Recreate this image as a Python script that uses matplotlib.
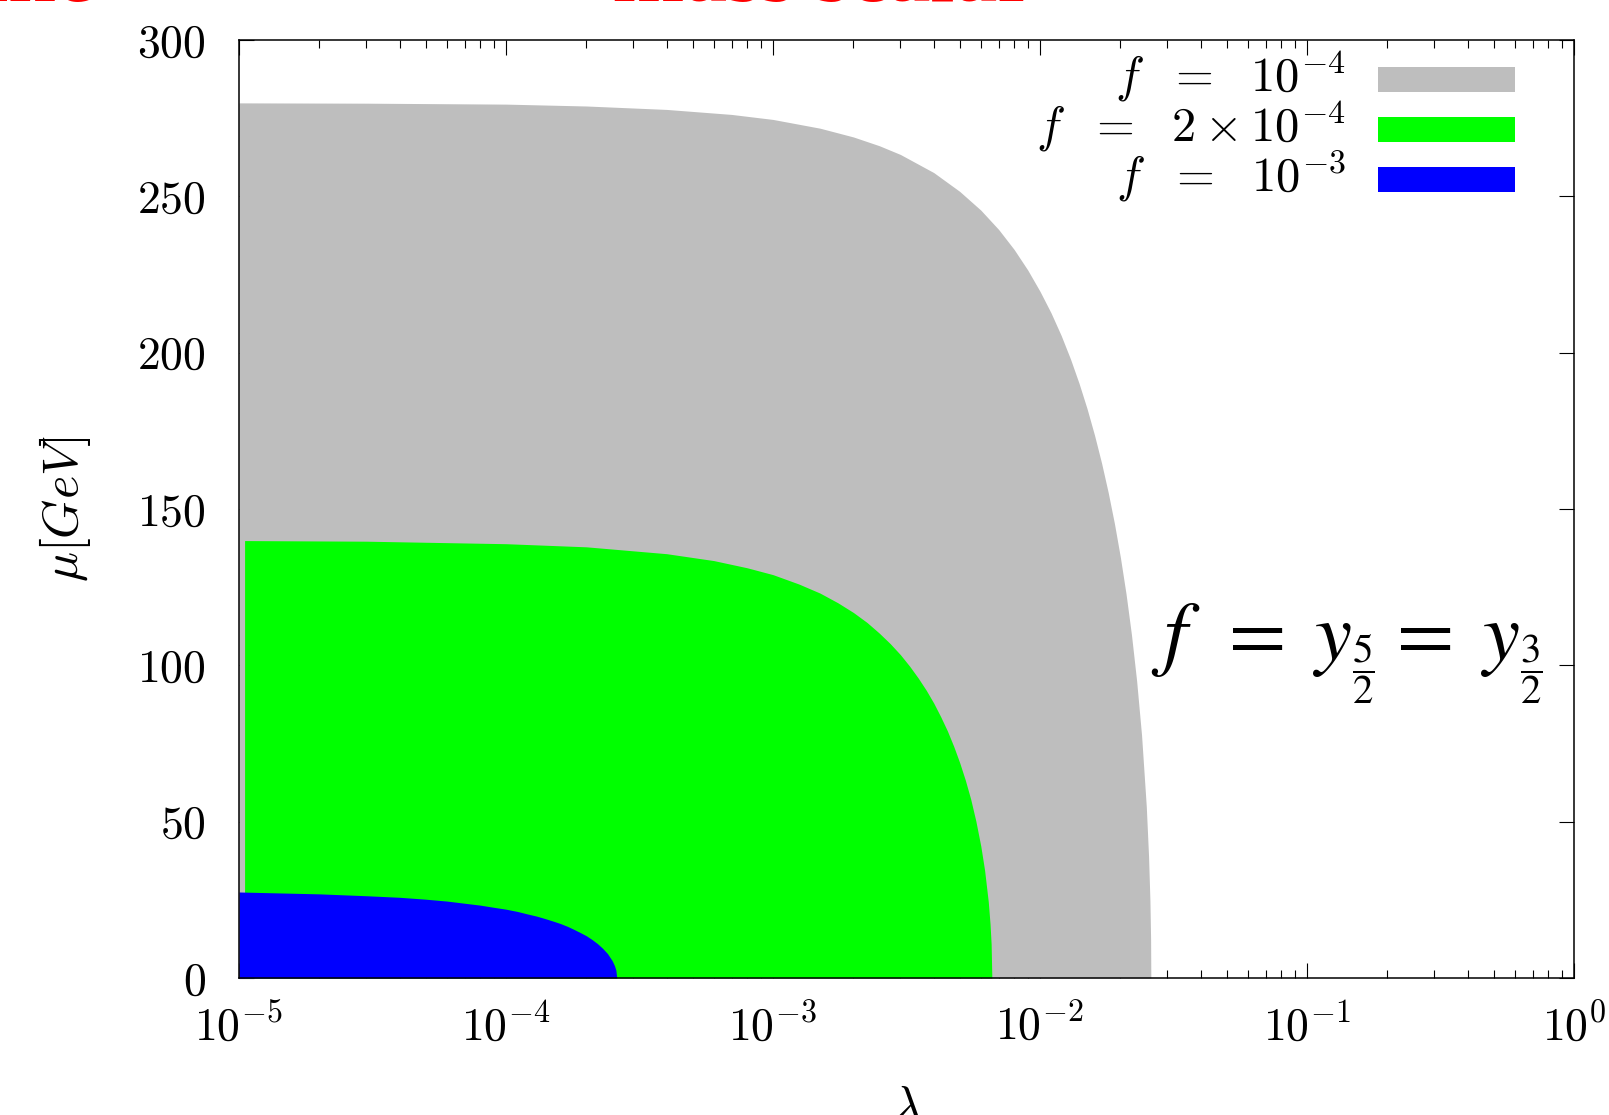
import numpy as np
import matplotlib
matplotlib.use('Agg')
import matplotlib.pyplot as plt
from matplotlib.patches import Rectangle

plt.rcParams['font.family'] = 'serif'
plt.rcParams['font.serif'] = ['cmr10', 'DejaVu Serif']
plt.rcParams['mathtext.fontset'] = 'cm'
plt.rcParams['axes.formatter.use_mathtext'] = True

# ── Dane: brzeg obszaru (lambda, mu [GeV]) ────────────────────────────────────

# f = 1e-4 (szary)
lam_f1 = [1.0e-5, 3.0e-5, 1.0e-4, 2.0e-4, 4.0e-4, 7.0e-4, 1.0e-3, 1.5e-3,
          2.0e-3, 2.5e-3, 3.0e-3, 4.0e-3, 5.0e-3, 6.0e-3, 7.0e-3, 8.0e-3,
          9.0e-3, 1.0e-2, 1.1e-2, 1.2e-2, 1.3e-2, 1.4e-2, 1.5e-2, 1.6e-2,
          1.7e-2, 1.8e-2, 1.9e-2, 2.0e-2, 2.1e-2, 2.2e-2, 2.3e-2, 2.4e-2,
          2.5e-2, 2.55e-2, 2.58e-2, 2.595e-2, 2.6e-2]
mu_f1 = [279.9, 279.8, 279.5, 278.9, 277.8, 276.2, 274.6, 271.8,
         269.0, 266.2, 263.4, 257.6, 251.6, 245.6, 239.4, 233.0,
         226.4, 219.6, 212.7, 205.5, 198.0, 190.2, 182.1, 173.6,
         164.7, 155.3, 145.3, 134.5, 122.8, 109.8, 95.1, 77.7,
         54.9, 38.8, 24.6, 12.3, 0.0]

# f = 2e-4 (zielony)
lam_f2 = [1.05e-5, 3.0e-5, 1.0e-4, 2.0e-4, 4.0e-4, 6.0e-4, 8.0e-4, 1.0e-3,
          1.25e-3, 1.5e-3, 1.75e-3, 2.0e-3, 2.25e-3, 2.5e-3, 2.75e-3, 3.0e-3,
          3.25e-3, 3.5e-3, 3.75e-3, 4.0e-3, 4.25e-3, 4.5e-3, 4.75e-3, 5.0e-3,
          5.25e-3, 5.5e-3, 5.75e-3, 6.0e-3, 6.2e-3, 6.4e-3, 6.5e-3, 6.56e-3, 6.6e-3]
mu_f2 = [139.9, 139.7, 138.9, 137.9, 135.7, 133.5, 131.2, 129.0,
         126.0, 123.1, 120.0, 116.9, 113.7, 110.3, 106.9, 103.4,
         99.7, 95.9, 92.0, 87.9, 83.5, 79.0, 74.1, 68.9,
         63.3, 57.2, 50.2, 42.2, 34.5, 24.4, 17.2, 10.9, 0.0]

# f = 1e-3 (niebieski)
lam_f3 = [1.0e-5, 2.0e-5, 3.0e-5, 4.0e-5, 5.0e-5, 6.0e-5, 7.0e-5, 8.0e-5,
          9.0e-5, 1.0e-4, 1.1e-4, 1.2e-4, 1.3e-4, 1.4e-4, 1.5e-4, 1.6e-4,
          1.7e-4, 1.8e-4, 1.9e-4, 2.0e-4, 2.1e-4, 2.2e-4, 2.3e-4, 2.4e-4,
          2.5e-4, 2.55e-4, 2.58e-4, 2.6e-4]
mu_f3 = [27.5, 26.9, 26.3, 25.8, 25.2, 24.6, 23.9, 23.3,
         22.6, 22.0, 21.3, 20.5, 19.8, 19.0, 18.2, 17.4,
         16.5, 15.5, 14.5, 13.5, 12.3, 11.0, 9.5, 7.8,
         5.5, 3.9, 2.5, 0.0]

labels = [r'$f\ \ =\ \ 10^{-4}$', r'$f\ \ =\ \ 2\times10^{-4}$', r'$f\ \ =\ \ 10^{-3}$']
colors = ['#bebebe', '#00ff00', '#0000ff']

# ── Wykres ────────────────────────────────────────────────────────────────────

fig = plt.figure(figsize=(16.09, 11.15), dpi=100)
ax = fig.add_axes([0.1485, 0.1229, 0.8298, 0.8412])
ax.set_axisbelow(True)

for lam, mu, c in zip([lam_f1, lam_f2, lam_f3], [mu_f1, mu_f2, mu_f3], colors):
    ax.fill_between(lam, 0, mu, color=c, lw=0, zorder=2)

ax.set_xscale('log')
ax.set_xlim(1e-5, 1)
ax.set_ylim(0, 300)
ax.set_yticks([0, 50, 100, 150, 200, 250, 300])

ax.tick_params(which='both', direction='in', top=True, right=True, width=0.8)
ax.tick_params(which='major', length=11, labelsize=33)
ax.tick_params(which='minor', length=5.5)
ax.tick_params(axis='x', which='major', pad=18)
ax.tick_params(axis='y', which='major', pad=24)
for s in ax.spines.values():
    s.set_linewidth(1.1)

ax.set_ylabel(r'$\mu[GeV]$', fontsize=36)
ax.yaxis.set_label_coords(-0.109, 0.5)
ax.set_xlabel(r'$\lambda$', fontsize=36)
ax.xaxis.set_label_coords(0.5, -0.113)

# legenda rysowana ręcznie (tekst po lewej, próbka koloru po prawej)
rows_y = [0.9446, 0.8913, 0.838]
for lab, c, y in zip(labels, colors, rows_y):
    ax.add_patch(Rectangle((0.853, y), 0.103, 0.0266, transform=ax.transAxes,
                           color=c, lw=0, zorder=3))
    ax.text(0.829, y, lab, transform=ax.transAxes, ha='right', va='baseline',
            fontsize=35, zorder=3)

ax.text(0.6832, 0.339,
        r'$f\,\ =\;y_{{}_{\dfrac{5}{2}}}=\;y_{{}_{\dfrac{3}{2}}}$',
        transform=ax.transAxes, ha='left', va='baseline', fontsize=60,
        math_fontfamily='stix', zorder=3)

# obcięty czerwony tytuł nad wykresem
fig.text(95 / 1609, 1 - 0.5 / 1115, 'Line', color='red', fontsize=62,
         fontweight='bold', family='Liberation Serif', ha='right', va='baseline')
fig.text(1036 / 1609, 1 - 0.5 / 1115, '+ mass scalar', color='red', fontsize=62,
         fontweight='bold', family='Liberation Serif', ha='right', va='baseline')

fig.savefig('out.png', dpi=100)
